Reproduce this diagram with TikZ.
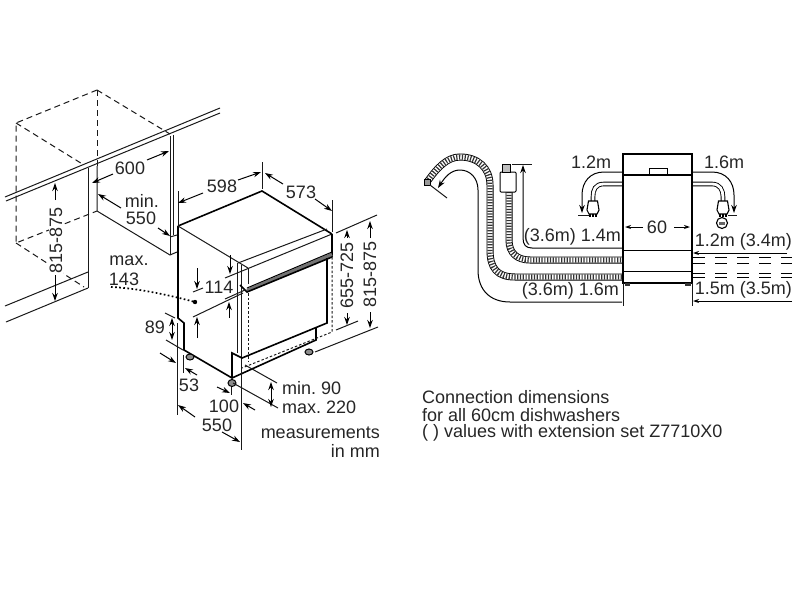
\documentclass[tikz,border=0pt]{standalone}
\usepackage{fontspec}
\setmainfont{Liberation Sans}
\usetikzlibrary{arrows.meta}
\tikzset{
  thinl/.style={line width=1pt,black!90},
  body/.style={line width=1.6pt,black},
  dashl/.style={line width=1pt,black!90,dash pattern=on 6pt off 4pt},
  dotl/.style={line width=1.7pt,black,dash pattern=on 1.7pt off 2.4pt},
  dim/.style={line width=1pt,black,-{Stealth[length=8pt,width=5.5pt]}},
  dimb/.style={line width=1pt,black,{Stealth[length=8pt,width=5.5pt]}-{Stealth[length=8pt,width=5.5pt]}},
  dims/.style={line width=1pt,black,-{Stealth[length=6pt,width=4pt]}},
  lab/.style={font=\fontsize{18}{20}\selectfont\frenchspacing,inner sep=0pt,text=black!85},
  foot/.style={line width=1pt,draw=black,fill=black!45},
}
\newcommand{\hosepath}[1]{%
  \draw[line width=7pt,black] #1;
  \draw[line width=5.2pt,white] #1;
  \draw[line width=5.2pt,black!80,dash pattern=on 1.2pt off 1.6pt] #1;}
\newcommand{\plugshape}[1]{%
  \begin{scope}[shift={#1}]
    \draw[line width=1.1pt,fill=white] (-4.5,-9) -- (4.5,-9) -- (6,0) -- (4,4) -- (-4,4) -- (-6,0) -- cycle;
    \draw[line width=1.2pt] (-3,4) -- (-3,7) (0,4) -- (0,7) (3,4) -- (3,7);
  \end{scope}}
\begin{document}
\begin{tikzpicture}[x=1pt,y=-1pt]
\useasboundingbox[fill=white] (0,0) rectangle (800,600);

% --- cabinet, dashed
\draw[dashl] (97,90) -- (16,123) -- (16,243) -- (97,211);
\draw[dashl] (97,90) -- (170,134);
\draw[dashl] (97,90) -- (97,166);
\draw[dashl] (16,123) -- (84,165);
\draw[dashl] (16,243) -- (84,287);
% --- counter
\draw[thinl] (5,197) -- (220,108);
\draw[thinl] (6,201) -- (220,113);
\draw[thinl] (5,306) -- (88,272);
\draw[thinl] (6,322) -- (88,288);
% --- neighbouring units
\draw[thinl] (88,168) -- (88,288);
\draw[thinl] (97,166) -- (97,211) -- (170,255) -- (177,252);
\draw[thinl] (170,136) -- (170,255);
\draw[thinl] (173,135) -- (173,235);
\draw[thinl] (170,237) -- (177,235);

% --- dishwasher
\draw[body] (178,226) -- (262,191) -- (332,234);
\draw[body] (178,226) -- (178,318) -- (184,323) -- (184,350) -- (232,378) -- (316,340) -- (316,328);
\draw[thinl] (178,226) -- (248,268);
\draw[thinl] (225,278) -- (332,234);
\draw[thinl] (238,263) -- (327,229);
\draw[body] (332,234) -- (332,257);
\draw[thinl] (248,268) -- (248,284);
\draw[thinl] (237,263) -- (237,353);
\draw[thinl] (241,265) -- (241,450);
\draw[line width=3.5pt,black!55] (247,290.5) -- (332,254.5);
\draw[line width=1.6pt,black] (240,285) -- (247,292) -- (332,257);
\draw[line width=1pt,black] (247,288) -- (332,252);
\draw[body] (327,258) -- (327,323) -- (242,358) -- (232,353) -- (232,378);
\draw[dashl,dash pattern=on 2.5pt off 2pt] (248,293) -- (248,362);
\draw[dashl,dash pattern=on 2.5pt off 2pt] (332,257) -- (332,332) -- (242,368);
\draw[foot] (190,357) ellipse (4 and 3);
\draw[foot] (232,383) ellipse (4 and 3.5);
\draw[foot] (309,352) ellipse (4 and 3);

% --- dimension ticks, left drawing
\draw[thinl] (178,191) -- (178,226);
\draw[thinl] (262,162) -- (262,189);
\draw[thinl] (332,200) -- (332,232);
\draw[thinl] (336,233) -- (377,215);
\draw[thinl] (336,330) -- (358,321);
\draw[thinl] (315,352) -- (378,327);
\draw[thinl] (193,292) -- (203,288);
\draw[thinl] (193,317) -- (243,293);
\draw[thinl] (225,299) -- (245,290);
\draw[thinl] (165,313) -- (175,318);
\draw[thinl] (166,340) -- (183,350);
\draw[thinl] (177,323) -- (177,415);
\draw[thinl] (183,355) -- (183,373);
\draw[thinl] (231,387) -- (231,395);
\draw[thinl] (245,365) -- (277,383);
\draw[thinl] (233,383) -- (278,408);

% --- dimension arrows, left drawing
\draw[dim] (113,174) -- (92,183);
\draw[dim] (147,160) -- (169,151);
\draw[dim] (121,208) -- (98,194);
\draw[dim] (158,228) -- (170,236);
\draw[dim] (55,200) -- (55,183);
\draw[dim] (55,275) -- (55,301);
\draw[dim] (203,193) -- (178,203);
\draw[dim] (238,180) -- (261,172);
\draw[dim] (283,184) -- (265,173);
\draw[dim] (315,199) -- (332,211);
\draw[dim] (347,238) -- (347,230);
\draw[dim] (347,313) -- (347,325);
\draw[dim] (370,238) -- (370,221);
\draw[dim] (370,312) -- (370,328);
\draw[dim] (197,268) -- (197,289);
\draw[dim] (197,338) -- (197,317);
\draw[dim] (230,255) -- (230,274);
\draw[dim] (229,318) -- (229,302);
\draw[dimb] (172,318) -- (172,340);
\draw[dim] (160,353) -- (176,363);
\draw[dim] (197,375) -- (185,368);
\draw[dim] (217,387) -- (230,393);
\draw[dim] (255,410) -- (243,403);
\draw[dim] (195,417) -- (178,405);
\draw[dim] (222,432) -- (240,442);
\draw[dimb] (271,382) -- (271,407);
\draw[dotl] (111,287) .. controls (135,288) and (165,294) .. (195,302);
\fill (195,302) circle (2.2);

% --- labels, left drawing
\node[lab] (l600) at (130,168) {600};
\node[lab] (lmin) at (142,201) {min.};
\node[lab] (l550a) at (141,218) {550};
\node[lab,rotate=90,fill=white,inner sep=1pt] (l815a) at (56,240) {815-875};
\node[lab] (lmax) at (129,261) {max.};
\node[lab] (l143) at (124,279) {143};
\node[lab] (l598) at (222,186) {598};
\node[lab] (l573) at (301,192) {573};
\node[lab] (l114) at (219,287) {114};
\node[lab,rotate=90] (l655) at (347,275) {655-725};
\node[lab,rotate=90] (l815b) at (370,274) {815-875};
\node[lab] (l89) at (155,327) {89};
\node[lab] (l53) at (189,385) {53};
\node[lab] (l100) at (224,406) {100};
\node[lab] (l550b) at (217,425) {550};
\node[lab,anchor=west] (lmin90) at (282,388) {min. 90};
\node[lab,anchor=west] (lmax220) at (282,407) {max. 220};
\node[lab,anchor=east] (lmeas) at (380,433) {measurements};
\node[lab,anchor=east] (linmm) at (380,451) {in mm};

% --- right drawing: hoses
\hosepath{(427,182) .. controls (437,168) and (447,157) .. (460,157) .. controls (478,157) and (490,168) .. (490,185) -- (490,250) .. controls (490,268) and (497,277) .. (515,277) -- (623,277)}
\hosepath{(509,192) -- (509,240) .. controls (509,253) and (517,260) .. (530,260) -- (623,260)}
\draw[line width=1pt,fill=white,rounded corners=1pt] (500,172) rectangle (516,192);
\draw[line width=1pt,fill=black!25] (502,164) rectangle (510,172);
\draw[line width=1pt,fill=black!40] (424,179) rectangle (430,185);
% --- dimension lines
\draw[thinl] (512,164) -- (532,164);
\draw[thinl] (430,185) -- (447,198);
\draw[dim] (622,248) -- (532,248) .. controls (526,248) and (523,245) .. (523,238) -- (523,165);
\draw[dim] (622,302) -- (510,302) .. controls (490,302) and (478,290) .. (478,270) -- (478,190) .. controls (478,178) and (470,170) .. (460,170) .. controls (451,170) and (445,177) .. (438,188);
\draw[dim] (622,172) -- (604,172) .. controls (590,172) and (582,182) .. (582,195) -- (582,213);
\draw[dim] (693,172) -- (712,172) .. controls (726,172) and (734,182) .. (734,195) -- (734,213);
\draw[thinl] (578,215) -- (590,215);
\draw[thinl] (728,215) -- (737,215);
% --- cables and plugs
\draw[line width=4.6pt,black] (623,184) -- (604,184) .. controls (595,184) and (593,190) .. (593,197) -- (593,204);
\draw[line width=2.8pt,white] (624,184) -- (604,184) .. controls (595,184) and (593,190) .. (593,197) -- (593,204);
\draw[line width=4.6pt,black] (692,184) -- (712,184) .. controls (720,184) and (723,190) .. (723,197) -- (723,204);
\draw[line width=2.8pt,white] (691,184) -- (712,184) .. controls (720,184) and (723,190) .. (723,197) -- (723,204);
\plugshape{(593,210)}
\plugshape{(723,210)}
\draw[line width=1.1pt] (722,223) circle (5.5);
\fill[black!60] (719,221.5) rectangle (725,224.5);

% --- unit, front view
\draw[line width=1.2pt,fill=white] (623,154) rectangle (692,283);
\draw[line width=2.2pt] (623,154) -- (692,154);
\draw[line width=1.1pt] (623,175) -- (692,175);
\draw[line width=1pt] (623,250) -- (692,250);
\draw[line width=1pt] (623,271) -- (692,271);
\draw[line width=1pt,fill=white] (649,168) rectangle (667,174);
\fill[black!80] (625,283) rectangle (630,286);
\fill[black!80] (685,283) rectangle (691,286);
\draw[thinl] (623,283) -- (623,306);
\draw[thinl] (692,283) -- (692,306);
% --- water lines
\foreach \yy in {257,263,273,277}
  \draw[line width=1pt,dash pattern=on 12pt off 10pt] (693,\yy) -- (792,\yy);
% --- dimension arrows on unit
\draw[dims] (643,227) -- (625,227);
\draw[dims] (674,227) -- (690,227);
\draw[dims] (787,253) -- (693,253);
\draw[dims] (792,301) -- (693,301);

% --- labels, right drawing
\node[lab] (r12a) at (591,162) {1.2m};
\node[lab] (r16a) at (724,162) {1.6m};
\node[lab] (r60) at (657,227) {60};
\node[lab,anchor=east] (r14) at (621,237) {(3.6m) 1.4m};
\node[lab,anchor=east] (r16b) at (619,291) {(3.6m) 1.6m};
\node[lab,anchor=east] (r12b) at (792,242) {1.2m (3.4m)};
\node[lab,anchor=east] (r15) at (792,290) {1.5m (3.5m)};
\node[lab,anchor=west] (n1) at (422,397) {Connection dimensions};
\node[lab,anchor=west] (n2) at (422,415) {for all 60cm dishwashers};
\node[lab,anchor=west] (n3) at (422,433) {( ) values with extension set Z7710X0};
\end{tikzpicture}
\end{document}
